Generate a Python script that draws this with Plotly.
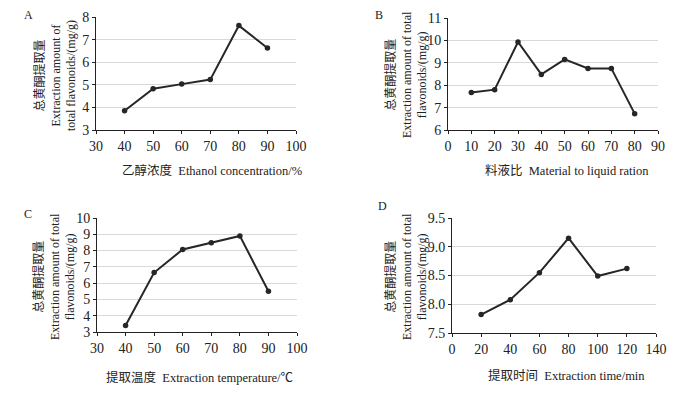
import plotly.graph_objects as go

# Data
a_x = [40, 50, 60, 70, 80, 90]
a_y = [3.85, 4.83, 5.03, 5.23, 7.62, 6.63]
b_x = [10, 20, 30, 40, 50, 60, 70, 80]
b_y = [7.67, 7.80, 9.93, 8.48, 9.15, 8.75, 8.75, 6.73]
c_x = [40, 50, 60, 70, 80, 90]
c_y = [3.40, 6.65, 8.07, 8.48, 8.90, 5.50]
d_x = [20, 40, 60, 80, 100, 120]
d_y = [7.82, 8.08, 8.55, 9.15, 8.49, 8.62]

a_xtitle = "乙醇浓度  Ethanol concentration/%"
b_xtitle = "料液比  Material to liquid ration"
c_xtitle = "提取温度  Extraction temperature/℃"
d_xtitle = "提取时间  Extraction time/min"
a_ytitle = "总黄酮提取量<br>Extraction amount of<br>total flavonoids/(mg/g)"
bcd_ytitle = "总黄酮提取量<br>Extraction amount of total<br>flavonoids/(mg/g)"

# page body has an 8px default margin; compensate
OFF = 8
W, H = 700 - OFF, 397 - OFF
FONT = "Liberation Serif, Noto Sans CJK SC, serif"
INK = "#262626"

def px(x):
    return (x - OFF) / W

def py(y):
    return 1 - (y - OFF) / H

fig = go.Figure()

panels = [
    (a_x, a_y, [30, 100], 10, [3, 8], 1, (96, 296), (17, 130), None),
    (b_x, b_y, [0, 90], 10, [6, 11], 1, (448, 658), (18, 130), None),
    (c_x, c_y, [30, 100], 10, [3, 10], 1, (97, 297), (218, 332), None),
    (d_x, d_y, [0, 140], 20, [7.5, 9.5], 0.5, (452, 656), (218, 333), ".1f"),
]

for i, (xs, ys, xr, xd, yr, yd, xdom, ydom, yfmt) in enumerate(panels, start=1):
    sfx = "" if i == 1 else str(i)
    fig.add_trace(go.Scatter(
        x=xs, y=ys, mode="lines+markers",
        line=dict(color=INK, width=2),
        marker=dict(color=INK, size=5.5),
        xaxis="x" + sfx, yaxis="y" + sfx, showlegend=False, cliponaxis=False,
    ))
    xa = dict(
        domain=[px(xdom[0]), px(xdom[1])], range=xr, dtick=xd, tick0=0,
        showgrid=False, showline=True, linecolor="#222", linewidth=1,
        ticks="outside", ticklen=3, tickcolor="#222",
        tickfont=dict(family=FONT, size=14, color="#222"),
        zeroline=False, anchor="y" + sfx, fixedrange=True, automargin=False,
    )
    ya = dict(
        domain=[py(ydom[1]), py(ydom[0])], range=yr, dtick=yd,
        showgrid=True, gridcolor="#d9d9d9", gridwidth=1,
        showline=True, linecolor="#222", linewidth=1,
        ticks="outside", ticklen=3, tickcolor="#222",
        tickfont=dict(family=FONT, size=14, color="#222"),
        zeroline=False, anchor="x" + sfx, fixedrange=True, automargin=False,
    )
    if yfmt:
        ya["tickformat"] = yfmt
    fig.update_layout(**{"xaxis" + sfx: xa, "yaxis" + sfx: ya})

annots = []
def ann(text, x, y, size=12, angle=0):
    annots.append(dict(
        text=text, x=px(x), y=py(y), xref="paper", yref="paper",
        showarrow=False, textangle=angle, xanchor="center", yanchor="middle",
        font=dict(family=FONT, size=size, color="#222"),
    ))

ann("A", 28, 15, 12)
ann("B", 379, 15, 12)
ann("C", 28, 214, 12)
ann("D", 382, 206, 12)
ann(a_xtitle, 212, 170, 12.5)
ann(b_xtitle, 567, 170, 12.5)
ann(c_xtitle, 200, 377, 12.5)
ann(d_xtitle, 566, 375, 12.5)
ann(a_ytitle, 55, 75, 12, -90)
ann(bcd_ytitle, 406, 75, 12, -90)
ann(bcd_ytitle, 54, 276, 12, -90)
ann(bcd_ytitle, 406, 277, 12, -90)

fig.update_layout(
    width=W, height=H, margin=dict(l=0, r=0, t=0, b=0, pad=0, autoexpand=False),
    paper_bgcolor="white", plot_bgcolor="white",
    annotations=annots,
)

fig.write_html("out.html")
